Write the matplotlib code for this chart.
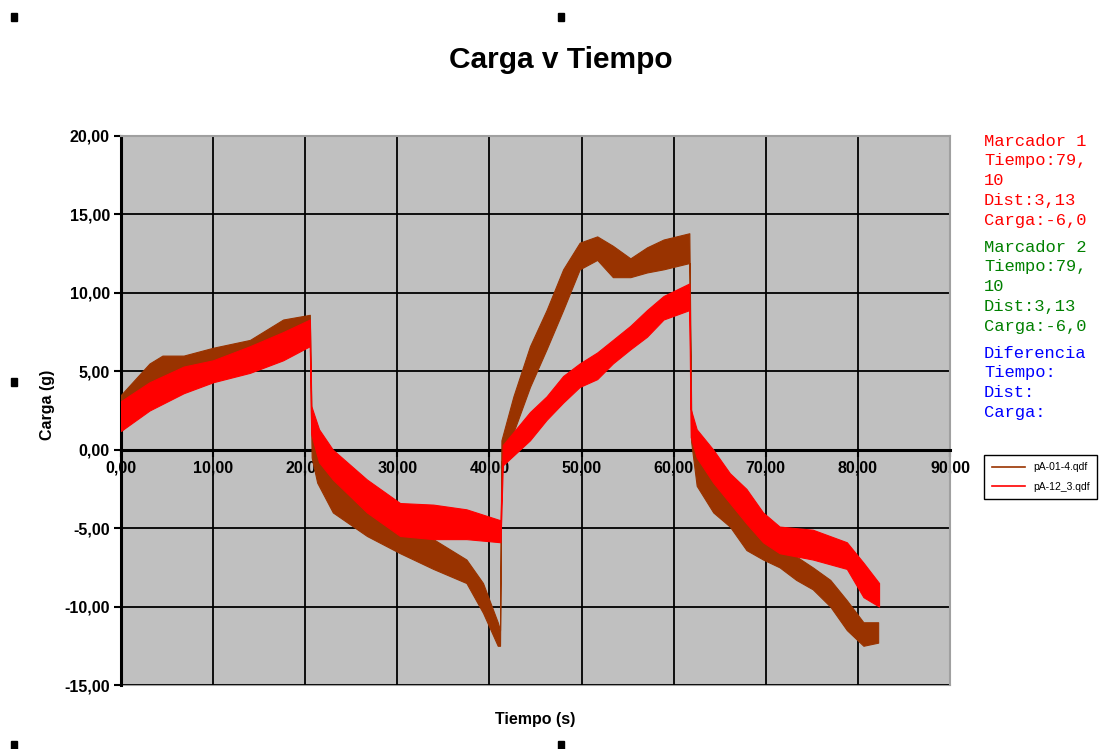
import matplotlib
matplotlib.use("Agg")
import matplotlib.pyplot as plt
from matplotlib.patches import Rectangle
from matplotlib.lines import Line2D

plt.rcParams["font.family"] = ["Liberation Sans", "DejaVu Sans"]

# Load envelopes (time in s, lower / upper load in g) for each run
t_01 = [0, 3.1, 4.5, 6.8, 10, 14, 17.6, 20.5,
        20.7, 21.3, 23, 26.7, 30.3, 33.9, 37.5, 39.3, 40.9, 41.15,
        41.3, 42.6, 44.4, 46.2, 48, 49.8, 51.7, 53.4, 55.3, 57.1, 58.9, 61.7,
        61.9, 62.5, 64.3, 66.1, 67.9, 69.7, 71.5, 73.3, 75.1, 77, 78.8, 80.6, 82.2]
lo_01 = [1.2, 3.0, 3.8, 4.0, 4.6, 5.3, 6.0, 6.8,
         -0.5, -2.1, -4.0, -5.5, -6.6, -7.6, -8.5, -10.4, -12.5, -12.5,
         -0.8, 1.1, 4.0, 6.4, 8.9, 11.5, 12.1, 11.0, 11.0, 11.3, 11.5, 11.9,
         0.5, -2.3, -4.0, -4.9, -6.4, -7.0, -7.5, -8.3, -8.9, -10.0, -11.5, -12.5, -12.3]
hi_01 = [3.5, 5.5, 6.0, 6.0, 6.5, 7.0, 8.3, 8.6,
         1.5, -0.4, -1.9, -3.6, -5.1, -5.7, -7.0, -8.5, -11.0, -11.5,
         0.6, 3.4, 6.6, 8.9, 11.5, 13.2, 13.6, 13.0, 12.2, 12.9, 13.4, 13.8,
         2.5, 0.0, -1.5, -3.0, -4.3, -5.7, -6.2, -6.8, -7.5, -8.3, -9.6, -11.0, -11.0]

t_12 = [0, 3.1, 6.8, 10, 14, 17.6, 20.5,
        20.65, 21.5, 23, 26.7, 30.3, 33.9, 37.5, 41.2,
        41.45, 44.4, 46.2, 48, 49.8, 51.7, 53.4, 55.3, 57.1, 58.9, 61.7,
        61.85, 62.5, 64.3, 66.1, 67.9, 69.7, 71.5, 75.1, 78.8, 80.6, 82.3]
lo_12 = [1.2, 2.5, 3.6, 4.3, 4.9, 5.7, 6.6,
         1.0, -0.8, -1.9, -4.0, -5.5, -5.7, -5.7, -5.9,
         -1.0, 0.6, 1.9, 3.0, 4.0, 4.5, 5.5, 6.4, 7.2, 8.3, 8.9,
         0.8, -0.5, -2.1, -3.4, -4.7, -5.9, -6.6, -7.0, -7.6, -9.4, -10.0]
hi_12 = [3.1, 4.3, 5.3, 5.7, 6.6, 7.5, 8.3,
         2.8, 1.3, 0.0, -1.9, -3.4, -3.5, -3.8, -4.5,
         0.3, 2.4, 3.4, 4.7, 5.5, 6.2, 7.0, 7.9, 8.9, 9.8, 10.6,
         2.6, 1.3, 0.0, -1.5, -2.5, -4.0, -4.9, -5.1, -5.9, -7.2, -8.5]

series_names = ["pA-01-4.qdf", "pA-12_3.qdf"]
series_colors = ["#993300", "#ff0000"]

x_ticks = [0, 10, 20, 30, 40, 50, 60, 70, 80, 90]
y_ticks = [-15, -10, -5, 0, 5, 10, 15, 20]

marker_blocks = [
    (["Marcador 1", "Tiempo:79,", "10", "Dist:3,13", "Carga:-6,0"], "#ff0000"),
    (["Marcador 2", "Tiempo:79,", "10", "Dist:3,13", "Carga:-6,0"], "#008000"),
    (["Diferencia", "Tiempo:", "Dist:", "Carga:"], "#0000ff"),
]

W, H = 1100, 749
fig = plt.figure(figsize=(W / 100, H / 100), dpi=100)
ax = fig.add_axes([121 / W, 1 - 685 / H, 829 / W, 549 / H])
ax.set_facecolor("#c0c0c0")

ax.fill_between(t_01, lo_01, hi_01, color=series_colors[0], lw=0.8, zorder=3)
ax.fill_between(t_12, lo_12, hi_12, color=series_colors[1], lw=0.8, zorder=4)

ax.set_xlim(0, 90)
ax.set_ylim(-15, 20)
ax.set_xticks(x_ticks)
ax.set_yticks(y_ticks)
ax.set_xticklabels([f"{v:.2f}".replace(".", ",") for v in x_ticks])
ax.set_yticklabels([f"{v:.2f}".replace(".", ",") for v in y_ticks])
ax.grid(True, color="black", lw=1.3, zorder=1)
ax.set_axisbelow(True)

# x axis crosses at zero, frame drawn in grey
ax.spines["bottom"].set_position(("data", 0))
ax.spines["bottom"].set_linewidth(2.2)
ax.spines["left"].set_linewidth(2.2)
for s in ["top", "right"]:
    ax.spines[s].set_color("#a0a0a0")
    ax.spines[s].set_linewidth(1.5)
ax.plot([0, 1], [0, 0], transform=ax.transAxes, color="#a0a0a0", lw=1.5,
        clip_on=False, zorder=0)

ax.tick_params(axis="both", direction="out", length=5, width=1.5,
               labelsize=11.5, pad=3)
for lab in ax.get_xticklabels() + ax.get_yticklabels():
    lab.set_fontweight("bold")

ax.set_xlabel("Tiempo (s)", fontsize=11.5, fontweight="bold")
ax.set_ylabel("Carga (g)", fontsize=11.5, fontweight="bold")
ax.xaxis.set_label_coords(0.5, -0.049)
ax.yaxis.set_label_coords(-0.080, 0.51)

fig.text(561 / W, 1 - 60 / H, "Carga v Tiempo", ha="center", va="center",
         fontsize=21.5, fontweight="bold")

# marker readouts on the right
y = 141
for lines, col in marker_blocks:
    for line in lines:
        fig.text(984 / W, 1 - y / H, line, color=col, ha="left", va="center",
                 family="Liberation Mono", fontsize=12.3)
        y += 19.8
    y += 7

handles = [Line2D([], [], color=c, lw=1.2) for c in series_colors]
fig.legend(handles, series_names, loc="upper left",
           bbox_to_anchor=(979 / W, 1 - 450 / H), fontsize=7.5,
           frameon=True, fancybox=False, edgecolor="black", framealpha=1,
           handlelength=3.2, borderpad=0.7, labelspacing=0.9)
leg = fig.legends[0]
leg.get_frame().set_linewidth(1.0)

# small selection handles around the chart object
for hx, hy in [(14, 17), (561, 17), (14, 382), (14, 745), (561, 745)]:
    fig.add_artist(Rectangle(((hx - 3) / W, 1 - (hy + 4) / H), 6 / W, 8 / H,
                             transform=fig.transFigure, color="black"))

fig.savefig("out.png", dpi=100)
